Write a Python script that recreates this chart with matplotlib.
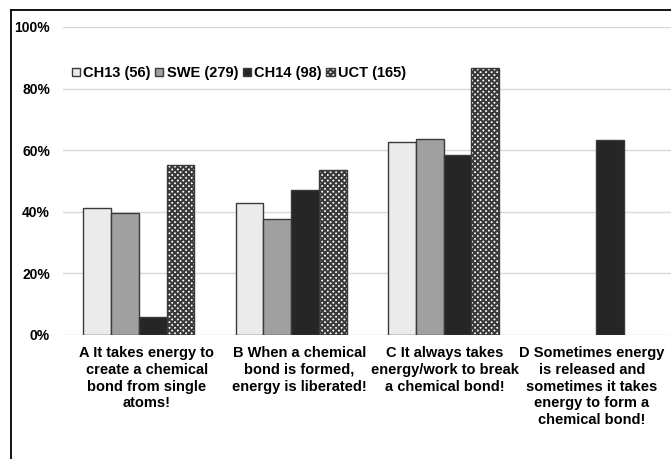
import numpy as np
import matplotlib.pyplot as plt
import matplotlib.transforms as mtransforms
from matplotlib.lines import Line2D

plt.rcParams['font.family'] = ['Liberation Sans', 'DejaVu Sans']
plt.rcParams['font.weight'] = 'bold'
plt.rcParams['hatch.linewidth'] = 1.5

# Data (fraction of respondents)
categories = [
    "A It takes energy to\ncreate a chemical\nbond from single\natoms!",
    "B When a chemical\nbond is formed,\nenergy is liberated!",
    "C It always takes\nenergy/work to break\na chemical bond!",
    "D Sometimes energy\nis released and\nsometimes it takes\nenergy to form a\nchemical bond!",
]
series_names = ["CH13 (56)", "SWE (279)", "CH14 (98)", "UCT (165)"]
ch13 = [0.411, 0.428, 0.627, np.nan]
swe = [0.397, 0.378, 0.636, np.nan]
ch14 = [0.059, 0.470, 0.584, 0.633]
uct = [0.552, 0.535, 0.868, np.nan]
yticks = [0, 0.2, 0.4, 0.6, 0.8, 1.0]
ytick_labels = ["0%", "20%", "40%", "60%", "80%", "100%"]

series = [ch13, swe, ch14, uct]
faces = ['#ebebeb', '#a0a0a0', '#262626', 'white']
hatches = [None, None, None, 'xxxxxx']

W, H = 671, 459
fig = plt.figure(figsize=(W / 100, H / 100), dpi=100)
ax = fig.add_axes([62.6 / W, 124 / H, 609.6 / W, 308 / H])

x = np.arange(len(categories))
bw = 1 / 5.5
for i, vals in enumerate(series):
    offs = (i - 1.5) * bw
    ax.bar(x + offs, vals, width=bw, color=faces[i], edgecolor='#3a3a3a',
           linewidth=1.0, hatch=hatches[i], label=series_names[i], zorder=3)

ax.set_xlim(-0.5, 3.5)
ax.set_ylim(0, 1)
ax.set_yticks(yticks)
ax.set_yticklabels(ytick_labels, fontsize=10, fontweight='bold')
ax.set_xticks(x)
ax.set_xticklabels(categories, fontsize=10.5, fontweight='bold', linespacing=1.25)
ax.tick_params(axis='both', length=0)
ax.tick_params(axis='y', pad=9)
ax.tick_params(axis='x', pad=8)
ax.grid(axis='y', color='#d9d9d9', linewidth=1.0, zorder=0)
for s in ax.spines.values():
    s.set_visible(False)

# the category labels sit slightly off-centre in the original
shifts = [8, 8, 1, -4]
for lab, dx in zip(ax.get_xticklabels(), shifts):
    lab.set_transform(lab.get_transform() +
                      mtransforms.ScaledTranslation(dx / 100, 0, fig.dpi_scale_trans))

leg = ax.legend(loc='center left', bbox_to_anchor=(0.015, 0.85), ncol=4,
                frameon=False, fontsize=10.5, handlelength=0.55, handleheight=0.55,
                handletextpad=0.25, columnspacing=0.3, borderaxespad=0, borderpad=0)
for t in leg.get_texts():
    t.set_fontweight('bold')

# outer chart frame (cropped on right and bottom)
fig.add_artist(Line2D([10.5 / W, 10.5 / W], [0, 1 - 10 / H], color='black', linewidth=1.3))
fig.add_artist(Line2D([10.5 / W, 1], [1 - 10 / H, 1 - 10 / H], color='black', linewidth=1.3))

fig.savefig('out.png', dpi=100)
